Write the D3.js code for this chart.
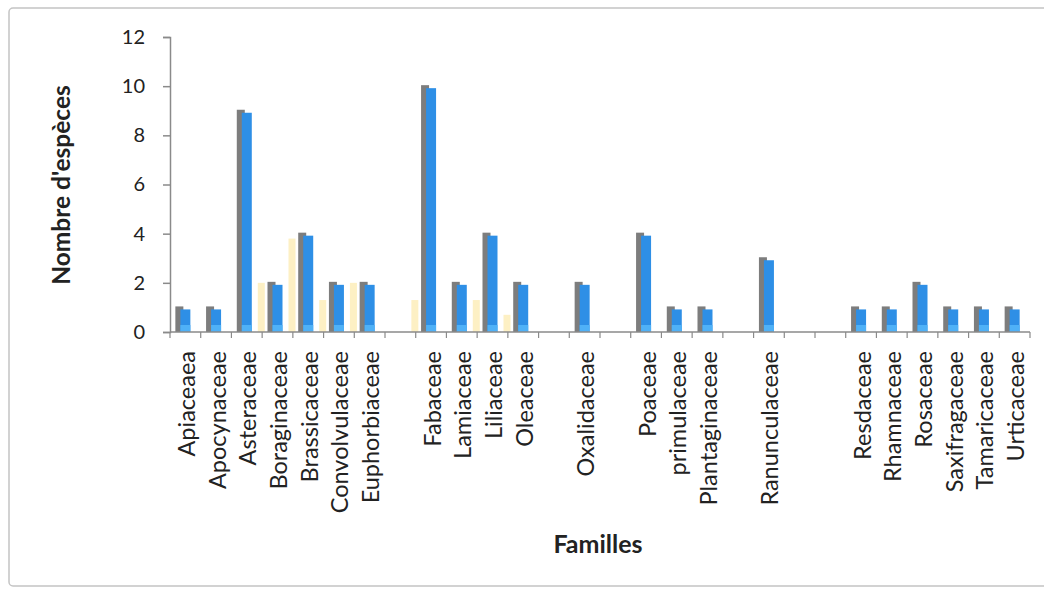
<!DOCTYPE html>
<html>
<head>
<meta charset="utf-8">
<script src="https://cdn.jsdelivr.net/npm/d3@7"></script>
<style>
  body { margin: 0; background: #fff; }
  svg { display: block; font-family: Lato, "Open Sans", sans-serif; }
</style>
</head>
<body>
<svg id="chart" width="1044" height="590"></svg>
<script>
// slots along the x axis; "" = empty slot in the original chart
const families = [
  "Apiaceaea", "Apocynaceae", "Asteraceae", "Boraginaceae", "Brassicaceae",
  "Convolvulaceae", "Euphorbiaceae", "", "Fabaceae", "Lamiaceae", "Liliaceae",
  "Oleaceae", "", "Oxalidaceae", "", "Poaceae", "primulaceae", "Plantaginaceae",
  "", "Ranunculaceae", "", "", "Resdaceae", "Rhamnaceae", "Rosaceae",
  "Saxifragaceae", "Tamaricaceae", "Urticaceae"
];
const especes = [
  1, 1, 9, 2, 4, 2, 2, 0, 10, 2, 4, 2, 0, 2, 0, 4, 1, 1, 0, 3, 0, 0, 1, 1, 2, 1, 1, 1
];
// faint pale-yellow bars visible beside some of the blue ones
const pale = [
  0, 0, 2, 3.8, 1.3, 2, 0, 1.3, 0, 1.3, 0.7, 0, 0, 0, 0, 0, 0, 0, 0, 0, 0, 0, 0, 0, 0, 0, 0, 0
];
const yTicks = [0, 2, 4, 6, 8, 10, 12];

const svg = d3.select("#chart");
const x0 = 170, x1 = 1030, yBase = 332, yTop = 37;

const x = d3.scaleBand()
  .domain(d3.range(families.length))
  .range([x0, x1]);

const y = d3.scaleLinear()
  .domain([0, 12])
  .range([yBase, yTop]);

// frame
svg.append("rect")
  .attr("x", 9).attr("y", 8)
  .attr("width", 1060).attr("height", 578)
  .attr("rx", 4)
  .attr("fill", "none")
  .attr("stroke", "#c4c4c4")
  .attr("stroke-width", 1.5);

const rows = families.map((f, i) => ({ i, f, v: especes[i], p: pale[i] }));

// pale series
svg.selectAll(".pale")
  .data(rows.filter(d => d.p > 0))
  .enter().append("rect")
  .attr("x", d => x(d.i) + x.bandwidth() / 2 + 11)
  .attr("y", d => y(d.p))
  .attr("width", 7)
  .attr("height", d => y(0) - y(d.p))
  .attr("fill", "#fdf0c4");

const bars = rows.filter(d => d.v > 0);

// gray shadow
svg.selectAll(".shadow")
  .data(bars)
  .enter().append("rect")
  .attr("x", d => x(d.i) + x.bandwidth() / 2 - 10)
  .attr("y", d => y(d.v) - 1)
  .attr("width", 8)
  .attr("height", d => y(0) - y(d.v) + 1)
  .attr("fill", "#7d7d7d");

// blue bars
svg.selectAll(".bar")
  .data(bars)
  .enter().append("rect")
  .attr("x", d => x(d.i) + x.bandwidth() / 2 - 5)
  .attr("y", d => y(d.v) + 2)
  .attr("width", 10)
  .attr("height", d => y(0) - y(d.v) - 2)
  .attr("fill", "#2e8fe6");

svg.selectAll(".barLow")
  .data(bars)
  .enter().append("rect")
  .attr("x", d => x(d.i) + x.bandwidth() / 2 - 5)
  .attr("y", d => y(0) - 7)
  .attr("width", 10)
  .attr("height", 7)
  .attr("fill", "#4fb1f7");

// y axis
const yAxis = svg.append("g")
  .attr("transform", `translate(${x0},0)`)
  .call(d3.axisLeft(y).tickValues(yTicks).tickSize(7).tickPadding(18));
yAxis.select(".domain").attr("stroke", "#8a8a8a").attr("stroke-width", 1.5);
yAxis.selectAll(".tick line").attr("stroke", "#8a8a8a").attr("stroke-width", 1.5);
yAxis.selectAll("text")
  .attr("fill", "#222")
  .style("font-size", "20px")
  .style("font-family", "Lato, sans-serif");

// x axis line and ticks at slot boundaries
svg.append("line")
  .attr("x1", x0).attr("x2", x1)
  .attr("y1", yBase).attr("y2", yBase)
  .attr("stroke", "#8a8a8a").attr("stroke-width", 1.5);

const bounds = d3.range(families.length + 1);
svg.selectAll(".xtick")
  .data(bounds)
  .enter().append("line")
  .attr("x1", d => x0 + d * x.step())
  .attr("x2", d => x0 + d * x.step())
  .attr("y1", yBase).attr("y2", yBase + 6)
  .attr("stroke", "#8a8a8a").attr("stroke-width", 1.2);

// x labels
svg.selectAll(".xlab")
  .data(rows.filter(d => d.f))
  .enter().append("text")
  .attr("transform", d => `translate(${x(d.i) + x.bandwidth() / 2 + 1},${yBase + 19}) rotate(-90)`)
  .attr("text-anchor", "end")
  .attr("dy", "0.36em")
  .attr("fill", "#222")
  .style("font-size", "23.5px")
  .text(d => d.f);

// axis titles
svg.append("text")
  .attr("transform", "translate(70,185) rotate(-90)")
  .attr("text-anchor", "middle")
  .attr("font-weight", "bold")
  .attr("fill", "#222")
  .style("font-size", "24.5px")
  .text("Nombre d'espèces");

svg.append("text")
  .attr("x", 598)
  .attr("y", 553)
  .attr("text-anchor", "middle")
  .attr("font-weight", "bold")
  .attr("fill", "#222")
  .style("font-size", "25px")
  .text("Familles");
</script>
</body>
</html>
